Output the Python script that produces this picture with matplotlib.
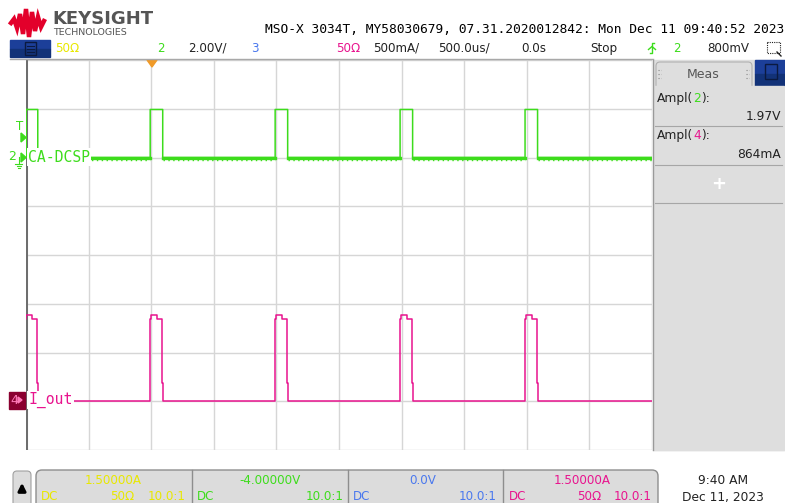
import numpy as np
import matplotlib
matplotlib.use("Agg")
import matplotlib.pyplot as plt
from matplotlib.patches import Rectangle, FancyBboxPatch, Polygon

# scope settings
ch2_scale, ch2_offset = 2.0, -4.0      # V/div, V
ch4_scale, ch4_offset = 0.5, 1.5       # A/div, A
time_scale = 500.0                     # us/div
t_left, t_right = -1000.0, 4000.0      # us
trig_level = 0.8                       # V

# pulse train, us
pulse_starts = [-1006, -8, 990, 1988, 2986]
pulse_width = 100

# CA-DCSP (ch2), volts
ch2_low, ch2_high = 0.0, 1.97

# I_out (ch4) pulse shape, relative time (us) and amps
iout_t = [0, 0, 8, 8, 56, 56, 92, 92, 103, 103]
iout_a = [0.0, 0.84, 0.84, 0.885, 0.885, 0.84, 0.84, 0.19, 0.19, 0.0]

GREEN = "#3ddc1c"
MAGENTA = "#e8148e"
YELLOW = "#e8e800"
BLUE = "#4a78ee"

W, H = 785, 503
fig = plt.figure(figsize=(W / 100, H / 100), dpi=100)
fig.patch.set_facecolor("white")

# graticule area in pixels
gx0, gx1, gy0, gy1 = 26, 652, 60, 450
ax = fig.add_axes([gx0 / W, 1 - gy1 / H, (gx1 - gx0) / W, (gy1 - gy0) / H])
ax.set_xlim(t_left, t_right)
ax.set_ylim(-4, 4)
ax.set_xticks(np.arange(t_left, t_right + 1, time_scale))
ax.set_yticks(np.arange(-4, 5, 1))
ax.grid(True, color="#d6d6d6", lw=1)
ax.tick_params(length=0, labelbottom=False, labelleft=False)
for s in ax.spines.values():
    s.set_visible(False)
ax.axvline(t_left, color="#6e6e6e", lw=2.2)

# ch2 trace
t2, v2 = [t_left], [ch2_high]
for s in pulse_starts:
    t2 += [s, s, s + pulse_width, s + pulse_width]
    v2 += [ch2_low, ch2_high, ch2_high, ch2_low]
t2.append(t_right)
v2.append(ch2_low)
t2 = np.array(t2, float)
v2 = np.array(v2, float)
# start at left edge: the first pulse is already high
t2[1] = t_left
y2 = (v2 - ch2_offset) / ch2_scale
ax.plot(t2, y2, color=GREEN, lw=1.1, zorder=3)
y2_low = np.where(v2 == ch2_low, y2, np.nan)
ax.plot(t2, y2_low, color=GREEN, lw=2.4, zorder=3)
ax.plot(t2, y2_low - 0.045, color=GREEN, lw=1.0, ls=(0, (1, 2.5)), zorder=3)

# ch4 trace
t4, a4 = [], []
for s in pulse_starts:
    t4 += [s + d for d in iout_t]
    a4 += iout_a
t4.append(t_right)
a4.append(0.0)
y4 = (np.array(a4) - ch4_offset) / ch4_scale
ax.plot(t4, y4, color=MAGENTA, lw=1.1, zorder=3)

# overlay in pixel coordinates
ov = fig.add_axes([0, 0, 1, 1], zorder=5)
ov.set_xlim(0, W)
ov.set_ylim(H, 0)
ov.axis("off")
ov.patch.set_visible(False)

# logo
logo = [(11, 23), (14, 19), (17, 28), (20, 14), (23, 34), (26, 9), (29, 37),
        (32, 12), (35, 31), (38, 17), (41, 27), (44, 21)]
ov.plot(*zip(*logo), color="#e3002b", lw=3.2, solid_joinstyle="miter")
ov.text(52, 19, "KEYSIGHT", fontsize=13, fontweight="bold", color="#555555",
        va="center", ha="left")
ov.text(53, 32, "TECHNOLOGIES", fontsize=6.8, color="#555555", va="center", ha="left")
ov.text(265, 29, "MSO-X 3034T, MY58030679, 07.31.2020012842: Mon Dec 11 09:40:52 2023",
        family="DejaVu Sans Mono", fontsize=9.3, va="center", ha="left", color="black")

# top status bar
ov.add_patch(Rectangle((10, 40), 40, 9, color="#1c3f99"))
ov.add_patch(Rectangle((10, 49), 40, 8, color="#123278"))
ov.add_patch(Rectangle((25, 42), 11, 13, fill=False, ec="#0b1a40", lw=1))
for yy in (45.5, 48.5, 51.5):
    ov.plot([27, 34], [yy, yy], color="#0b1a40", lw=0.8)
ov.plot([10, 653], [59, 59], color="#a8a8a8", lw=1)
sb_y = 48
stat = [(55, "50Ω", YELLOW), (157, "2", GREEN), (188, "2.00V/", "#222222"),
        (251, "3", BLUE), (336, "50Ω", MAGENTA), (373, "500mA/", "#222222"),
        (438, "500.0us/", "#222222"), (521, "0.0s", "#222222"),
        (590, "Stop", "#222222"), (673, "2", GREEN), (707, "800mV", "#222222")]
for x, s, c in stat:
    ov.text(x, sb_y, s, fontsize=8.6, color=c, va="center", ha="left")
ov.plot([650, 652, 652, 654], [53, 53, 43, 43], color=GREEN, lw=1)
ov.plot([648.5, 652, 655.5], [49.5, 46.5, 49.5], color=GREEN, lw=1)
ov.add_patch(Rectangle((767, 42), 13, 11, fill=False, ec="#222222", lw=0.8, ls=(0, (1, 1))))
ov.plot([777, 781], [52, 56], color="#222222", lw=1)

# trigger position marker
ov.add_patch(Polygon([(147, 60), (157, 60), (152, 67)], color="#f09a28"))

# channel labels on the graticule
ov.text(28, 157, "CA-DCSP", family="DejaVu Sans Mono", fontsize=10.6, color=GREEN,
        va="center", ha="left",
        bbox=dict(boxstyle="square,pad=0.08", fc="white", ec="none"))
ov.text(28, 400, "I_out", family="DejaVu Sans Mono", fontsize=10.6, color=MAGENTA,
        va="center", ha="left",
        bbox=dict(boxstyle="square,pad=0.08", fc="white", ec="none"))
ov.text(20, 126, "T", fontsize=8.5, color=GREEN, va="center", ha="center")
ov.add_patch(Polygon([(21, 133), (21, 142), (26, 137.5)], color=GREEN))
ov.text(12, 157, "2", fontsize=9, color=GREEN, va="center", ha="center")
ov.add_patch(Polygon([(21, 153), (21, 162), (26, 157.5)], color=GREEN))
ov.plot([18.5, 18.5], [157, 164], color=GREEN, lw=0.8)
ov.plot([15, 22], [164, 164], color=GREEN, lw=0.8)
ov.plot([16.5, 20.5], [166, 166], color=GREEN, lw=0.8)
ov.plot([17.5, 19.5], [168, 168], color=GREEN, lw=0.8)
ov.add_patch(Rectangle((9, 392), 16, 17, color="#8a0030"))
ov.text(14, 400, "4", fontsize=9, color="#ff7ab8", va="center", ha="center")
ov.add_patch(Polygon([(18, 397), (18, 403), (22, 400)], color="#ff7ab8"))

# right measurement panel
ov.add_patch(Rectangle((653, 60), 132, 390, color="#dedede"))
ov.plot([653, 653], [60, 450], color="#9a9a9a", lw=1)
ov.add_patch(FancyBboxPatch((656, 62), 96, 40, boxstyle="round,pad=0,rounding_size=4",
                            fc="#dedede", ec="#b0b0b0", lw=0.8))
ov.add_patch(Rectangle((755, 60), 30, 14, color="#1c3f99"))
ov.add_patch(Rectangle((755, 74), 30, 13, color="#123278"))
ov.add_patch(Rectangle((765, 64), 12, 15, fill=False, ec="#0b1a40", lw=1))
ov.text(703, 74, "Meas", fontsize=9, color="#555555", va="center", ha="center")
for xx in (658, 746):
    for yy in (70, 74, 78):
        ov.plot([xx, xx + 2.5], [yy, yy], color="#888888", lw=0.8, ls=(0, (1, 1.5)))
ov.add_patch(Rectangle((654, 86), 130, 364, color="#dedede"))


def meas_label(y, ch, color):
    t1 = ov.text(657, y, "Ampl(", fontsize=8.8, color="#222222", va="baseline", ha="left")
    t2 = ov.annotate(ch, xy=(1, 0), xycoords=t1, fontsize=8.8, color=color,
                     va="bottom", ha="left")
    ov.annotate("):", xy=(1, 0), xycoords=t2, fontsize=8.8, color="#222222",
                va="bottom", ha="left")


meas_label(102, "2", GREEN)
meas_label(139, "4", MAGENTA)
ov.text(781, 116, "1.97V", fontsize=8.8, color="#222222", va="center", ha="right")
ov.text(781, 155, "864mA", fontsize=8.8, color="#222222", va="center", ha="right")
for yy in (126, 165, 203):
    ov.plot([655, 782], [yy, yy], color="#a6a6a6", lw=0.8)
ov.text(719, 184, "+", fontsize=13, fontweight="bold", color="white", va="center", ha="center")

# bottom channel bar
ov.add_patch(FancyBboxPatch((13, 471), 18, 40, boxstyle="round,pad=0,rounding_size=4",
                            fc="#dcdcdc", ec="#a0a0a0", lw=0.8))
ov.annotate("", xy=(22, 480), xytext=(22, 493),
            arrowprops=dict(arrowstyle="-|>", color="black", lw=2.2, mutation_scale=11))
ov.add_patch(FancyBboxPatch((36, 470), 622, 45, boxstyle="round,pad=0,rounding_size=6",
                            fc="#dcdcdc", ec="#8e8e8e", lw=1))
for xx in (191.5, 347.5, 503):
    ov.plot([xx, xx], [470, 503], color="#8e8e8e", lw=1)
r1, r2 = 480, 497
bot = [(113, r1, "1.50000A", YELLOW, "center"), (41, r2, "DC", YELLOW, "left"),
       (110, r2, "50Ω", YELLOW, "left"), (186, r2, "10.0:1", YELLOW, "right"),
       (270, r1, "-4.00000V", GREEN, "center"), (197, r2, "DC", GREEN, "left"),
       (344, r2, "10.0:1", GREEN, "right"),
       (423, r1, "0.0V", BLUE, "center"), (353, r2, "DC", BLUE, "left"),
       (497, r2, "10.0:1", BLUE, "right"),
       (582, r1, "1.50000A", MAGENTA, "center"), (509, r2, "DC", MAGENTA, "left"),
       (577, r2, "50Ω", MAGENTA, "left"), (652, r2, "10.0:1", MAGENTA, "right")]
for x, y, s, c, ha in bot:
    ov.text(x, y, s, fontsize=8.6, color=c, va="center", ha=ha)
ov.text(723, 480, "9:40 AM", fontsize=8.8, color="#222222", va="center", ha="center")
ov.text(723, 497, "Dec 11, 2023", fontsize=8.8, color="#222222", va="center", ha="center")

fig.savefig("out.png", dpi=100)
